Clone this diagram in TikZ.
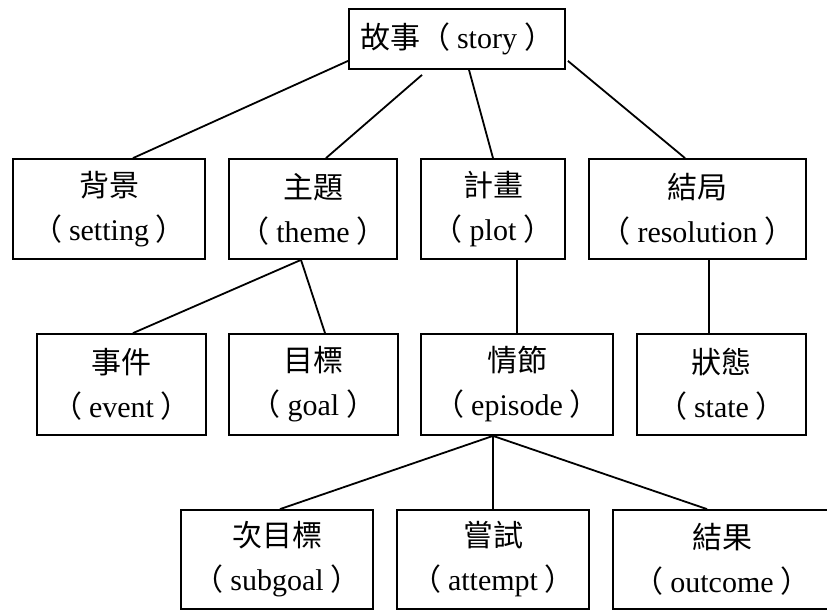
\documentclass[tikz,border=0pt]{standalone}
\usepackage{fontspec}
\setmainfont{Liberation Serif}
\newfontfamily\cjk{Noto Sans CJK TC}
% full-width brackets with a little air on the inner side
\newcommand{\lp}{{\cjk （}\hspace{7pt}}
\newcommand{\rp}{\hspace{7pt}{\cjk ）}}
\begin{document}
\begin{tikzpicture}[x=1pt,y=1pt,
  box/.style={draw, line width=1.8pt, inner sep=0pt, align=center,
    font=\fontsize{30}{44}\selectfont},
  link/.style={line width=1.8pt}]
\useasboundingbox (0,0) rectangle (827,-612);

% top level
\node[box, minimum width=216, minimum height=60] (story) at (457,-39) {{\cjk 故事}\lp story\rp};

% second level
\node[box, minimum width=192, minimum height=100] (setting) at (109,-209) {{\cjk 背景}\\\lp setting\rp};
\node[box, minimum width=168, minimum height=100] (theme) at (313,-209) {{\cjk 主題}\\\lp theme\rp};
\node[box, minimum width=144, minimum height=100] (plot) at (493,-209) {{\cjk 計畫}\\\lp plot\rp};
\node[box, minimum width=217, minimum height=100] (resolution) at (697.5,-209) {{\cjk 結局}\\\lp resolution\rp};

% third level
\node[box, minimum width=169, minimum height=101] (event) at (121.5,-384.5) {{\cjk 事件}\\\lp event\rp};
\node[box, minimum width=169, minimum height=101] (goal) at (313.5,-384.5) {{\cjk 目標}\\\lp goal\rp};
\node[box, minimum width=192, minimum height=101] (episode) at (517,-384.5) {{\cjk 情節}\\\lp episode\rp};
\node[box, minimum width=169, minimum height=101] (state) at (721.5,-384.5) {{\cjk 狀態}\\\lp state\rp};

% fourth level
\node[box, minimum width=192, minimum height=99] (subgoal) at (277,-559.5) {{\cjk 次目標}\\\lp subgoal\rp};
\node[box, minimum width=192, minimum height=99] (attempt) at (493,-559.5) {{\cjk 嘗試}\\\lp attempt\rp};
\node[box, minimum width=218, minimum height=99] (outcome) at (722,-559.5) {{\cjk 結果}\\\lp outcome\rp};

% connectors
\draw[link] ([yshift=9pt]story.south west) -- ([xshift=24pt]setting.north);
\draw[link] ([xshift=-35pt,yshift=-5pt]story.south) -- ([xshift=13pt]theme.north);
\draw[link] ([xshift=12pt]story.south) -- (plot.north);
\draw[link] ([xshift=2pt,yshift=9pt]story.south east) -- ([xshift=-12.5pt]resolution.north);

\draw[link] ([xshift=-12pt]theme.south) -- ([xshift=11.5pt]event.north);
\draw[link] ([xshift=-12pt]theme.south) -- ([xshift=11.5pt]goal.north);
\draw[link] ([xshift=24pt]plot.south) -- (episode.north);
\draw[link] ([xshift=11.5pt]resolution.south) -- ([xshift=-12.5pt]state.north);

\draw[link] ([xshift=-24pt]episode.south) -- ([xshift=3pt]subgoal.north);
\draw[link] ([xshift=-24pt]episode.south) -- (attempt.north);
\draw[link] ([xshift=-24pt]episode.south) -- ([xshift=-15pt]outcome.north);
\end{tikzpicture}
\end{document}
